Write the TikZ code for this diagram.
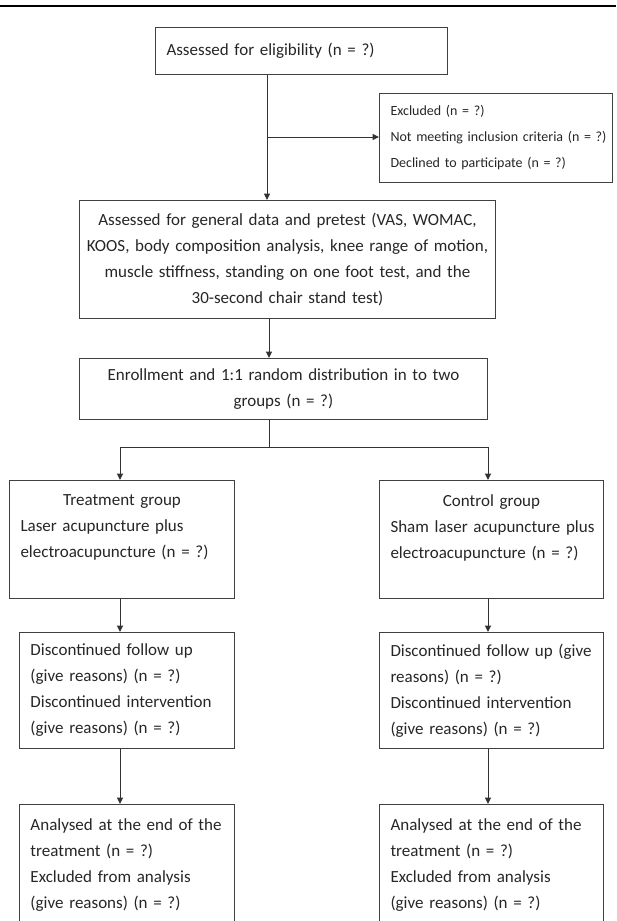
\documentclass[tikz,border=0pt]{standalone}
\usepackage{fontspec}
\setmainfont{Carlito}
\usetikzlibrary{arrows.meta}
\begin{document}
\begin{tikzpicture}[x=1pt,y=-1pt,
    box/.style={draw=black!75,line width=1pt,anchor=north west,inner ysep=0pt,
      text=black!85,font=\fontsize{17}{26}\selectfont},
    lbox/.style={box,align=left,inner xsep=11pt},
    cbox/.style={box,align=center,inner xsep=4pt},
    link/.style={black!80,line width=1pt},
    arr/.style={link,-{Triangle[length=6.5pt,width=6pt]}}]
  \useasboundingbox (0,0) rectangle (616,921);
  % rule across the top
  \draw[line width=2.7pt] (0,6) -- (616,6);

  % screening
  \node[lbox,text width=211pt,minimum height=89pt,font=\fontsize{14}{26}\selectfont] (excl) at (379,93)
    {Excluded (n = ?)\\\mbox{Not meeting inclusion criteria (n = ?)}\\Declined to participate (n = ?)};
  \node[lbox,text width=270pt,minimum height=47pt] (elig) at (155,27)
    {Assessed for eligibility (n = ?)};
  \node[cbox,text width=408pt,minimum height=118pt] (pre) at (79,200)
    {Assessed for general data and pretest (VAS, WOMAC,\\KOOS, body composition analysis, knee range of motion,\\muscle stiffness, standing on one foot test, and the\\30-second chair stand test)};
  \node[cbox,text width=400pt,minimum height=61pt] (enrol) at (79,358)
    {Enrollment and 1:1 random distribution in to two\\groups (n = ?)};

  % two arms
  \node[lbox,text width=203pt,minimum height=118pt] (treat) at (9,480)
    {{\centering Treatment group\par}Laser acupuncture plus\\electroacupuncture (n = ?)\\\mbox{}};
  \node[lbox,text width=202pt,minimum height=118pt] (ctrl) at (379,480)
    {{\centering Control group\par}\mbox{Sham laser acupuncture plus}\\electroacupuncture (n = ?)\\\mbox{}};
  \node[lbox,text width=193pt,minimum height=116pt] (ldisc) at (19,632)
    {Discontinued follow up\\(give reasons) (n = ?)\\Discontinued intervention\\(give reasons) (n = ?)};
  \node[lbox,text width=202pt,minimum height=116pt] (rdisc) at (379,632)
    {\mbox{Discontinued follow up (give}\\reasons) (n = ?)\\Discontinued intervention\\(give reasons) (n = ?)};
  \node[lbox,text width=193pt,minimum height=122pt] (lanal) at (19,804)
    {Analysed at the end of the\\treatment (n = ?)\\Excluded from analysis\\(give reasons) (n = ?)};
  \node[lbox,text width=202pt,minimum height=122pt] (ranal) at (379,804)
    {Analysed at the end of the\\treatment (n = ?)\\Excluded from analysis\\(give reasons) (n = ?)};

  % connectors
  \coordinate (split) at (267,137);
  \coordinate (fork) at (269,447);
  \coordinate (tl) at (120,447);
  \coordinate (tr) at (488,447);
  \draw[arr] (split |- elig.south) -- (split |- pre.north);
  \draw[arr] (split) -- (excl.west |- split);
  \draw[arr] (fork |- pre.south) -- (fork |- enrol.north);
  \draw[link] (fork |- enrol.south) -- (fork);
  \draw[link] (tl) -- (tr);
  \draw[arr] (tl) -- (tl |- treat.north);
  \draw[arr] (tr) -- (tr |- ctrl.north);
  \draw[arr] (tl |- treat.south) -- (tl |- ldisc.north);
  \draw[arr] (tr |- ctrl.south) -- (tr |- rdisc.north);
  \draw[arr] (tl |- ldisc.south) -- (tl |- lanal.north);
  \draw[arr] (tr |- rdisc.south) -- (tr |- ranal.north);
\end{tikzpicture}
\end{document}
